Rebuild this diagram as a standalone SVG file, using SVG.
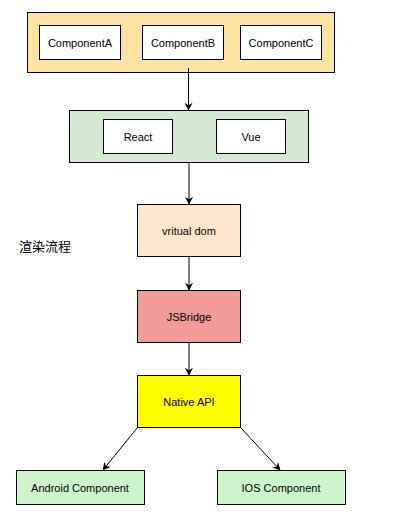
<svg xmlns="http://www.w3.org/2000/svg" width="413" height="520" viewBox="0 0 413 520">
<defs>
<marker id="arr" viewBox="0 0 10 10" refX="9" refY="5" markerWidth="8" markerHeight="8" markerUnits="userSpaceOnUse" orient="auto">
<path d="M0,0 L10,5 L0,10 L3,5 Z" fill="#000"/>
</marker>
<style>
rect{stroke:#000;stroke-width:1}
text{font-family:"Liberation Sans",Arial,sans-serif;font-size:11px;fill:#000;text-anchor:middle;dominant-baseline:central}
.e{stroke:#000;stroke-width:1;fill:none;marker-end:url(#arr)}
</style>
</defs>
<rect width="413" height="520" fill="#fff" style="stroke:none"/>
<g id="components">
<rect x="27.5" y="12.5" width="307" height="60" fill="#fde3a2"/>
</g>
<g id="componentA"><rect x="39.5" y="25.5" width="81" height="34" fill="#fff"/><text x="80" y="42.5">ComponentA</text></g>
<g id="componentB"><rect x="142.5" y="25.5" width="81" height="34" fill="#fff"/><text x="183" y="42.5">ComponentB</text></g>
<g id="componentC"><rect x="240.5" y="25.5" width="81" height="34" fill="#fff"/><text x="281" y="42.5">ComponentC</text></g>
<g id="frameworks"><rect x="69.5" y="110.5" width="239" height="52" fill="#d5e8d4"/></g>
<g id="react"><rect x="103.5" y="119.5" width="69" height="34" fill="#fff"/><text x="138" y="136.5">React</text></g>
<g id="vue"><rect x="216.5" y="119.5" width="69" height="34" fill="#fff"/><text x="251" y="136.5">Vue</text></g>
<g id="vdom"><rect x="137.5" y="204.5" width="103" height="52" fill="#ffe6cc"/><text x="189" y="230.5">vritual dom</text></g>
<g id="label"><text x="45" y="245" style="font-family:'Noto Sans CJK SC',sans-serif;font-size:13px">渲染流程</text></g>
<g id="jsbridge"><rect x="137.5" y="290.5" width="103" height="52" fill="#f19c99"/><text x="189" y="316.5">JSBridge</text></g>
<g id="native"><rect x="137.5" y="375.5" width="103" height="52" fill="#ffff00"/><text x="189" y="401.5">Native API</text></g>
<g id="android"><rect x="16.5" y="470.5" width="128" height="34" fill="#ccf5cc"/><text x="80" y="487.5">Android Component</text></g>
<g id="ios"><rect x="217.5" y="470.5" width="128" height="34" fill="#ccf5cc"/><text x="281" y="487.5">IOS Component</text></g>
<g id="connectors">
<line class="e" x1="188.5" y1="68" x2="188.5" y2="110"/>
<line class="e" x1="189" y1="162.5" x2="189" y2="204"/>
<line class="e" x1="189" y1="256.5" x2="189" y2="290"/>
<line class="e" x1="189" y1="342.5" x2="189" y2="375"/>
<line class="e" x1="137.5" y1="427.5" x2="103" y2="470"/>
<line class="e" x1="240.5" y1="427.5" x2="280" y2="470"/>
</g>
</svg>
